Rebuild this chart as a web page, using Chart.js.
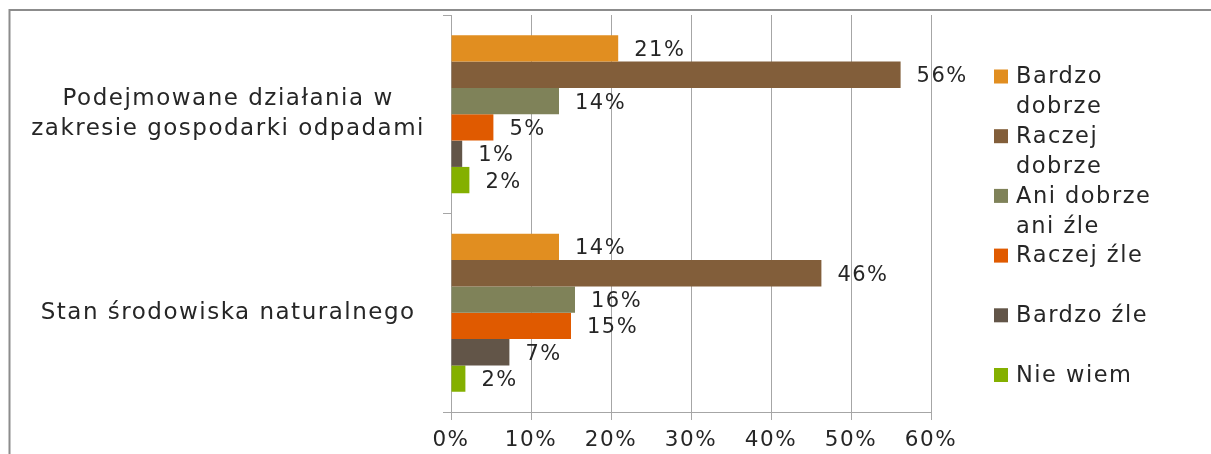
<!DOCTYPE html>
<html>
<head>
<meta charset="utf-8">
<script src="https://cdn.jsdelivr.net/npm/chart.js@4/dist/chart.umd.min.js"></script>
<style>
html,body{margin:0;padding:0;background:#fff;overflow:hidden}
#wrap{position:relative;width:1211px;height:454px}
canvas{display:block}
</style>
</head>
<body>
<div id="wrap"><canvas id="c" width="1211" height="454"></canvas></div>
<script>
// ---- data ----
const categories = [["Podejmowane działania w", "zakresie gospodarki odpadami"], "Stan środowiska naturalnego"];
const seriesNames = ["Bardzo dobrze", "Raczej dobrze", "Ani dobrze ani źle", "Raczej źle", "Bardzo źle", "Nie wiem"];
const bardzoDobrze    = [20.9, 13.5];
const raczejDobrze    = [56.2, 46.3];
const aniDobrzeAniZle = [13.5, 15.5];
const raczejZle       = [5.3, 15.0];
const bardzoZle       = [1.4, 7.3];
const nieWiem         = [2.3, 1.8];
const xTickValues     = [0, 10, 20, 30, 40, 50, 60];
const seriesColors    = ["#E18E20", "#825E3A", "#7F8259", "#E05A00", "#625548", "#84B000"];

const seriesValues = [bardzoDobrze, raczejDobrze, aniDobrzeAniZle, raczejZle, bardzoZle, nieWiem];

// ---- style ----
const FONT = '"DejaVu Sans", sans-serif';
const TEXT = '#262626';
const GRID = '#A6A6A6';
const LS = '1.5px';
Chart.defaults.font.family = FONT;

const spacingPlugin = {
  id: 'spacing',
  beforeUpdate(chart) { chart.ctx.letterSpacing = LS; },
  beforeLayout(chart) { chart.ctx.letterSpacing = LS; },
  beforeDraw(chart) { chart.ctx.letterSpacing = LS; }
};

const framePlugin = {
  id: 'frame',
  beforeDraw(chart) {
    const ctx = chart.ctx;
    ctx.save();
    ctx.fillStyle = '#fff';
    ctx.fillRect(0, 0, chart.width, chart.height);
    ctx.strokeStyle = '#8C8C8C';
    ctx.lineWidth = 2;
    ctx.beginPath();
    ctx.moveTo(9.5, chart.height);
    ctx.lineTo(9.5, 10);
    ctx.lineTo(chart.width, 10);
    ctx.stroke();
    ctx.restore();
  }
};

const valueLabelPlugin = {
  id: 'valueLabels',
  afterDatasetsDraw(chart) {
    const ctx = chart.ctx;
    ctx.save();
    ctx.letterSpacing = LS;
    ctx.font = '21px ' + FONT;
    ctx.fillStyle = TEXT;
    ctx.textAlign = 'left';
    ctx.textBaseline = 'middle';
    chart.data.datasets.forEach((ds, i) => {
      chart.getDatasetMeta(i).data.forEach((bar, j) => {
        ctx.fillText(Math.round(ds.data[j]) + '%', bar.x + 16, bar.y + 2);
      });
    });
    ctx.restore();
  }
};

const legendPlugin = {
  id: 'customLegend',
  afterDraw(chart) {
    const ctx = chart.ctx;
    const boxX = 994, textX = 1016, y0 = 76.5, step = 59.7, lineH = 30, box = 14, maxW = 152;
    ctx.save();
    ctx.letterSpacing = LS;
    ctx.font = '22.5px ' + FONT;
    ctx.fillStyle = TEXT;
    ctx.textAlign = 'left';
    ctx.textBaseline = 'middle';
    chart.data.datasets.forEach((ds, i) => {
      const y = y0 + i * step;
      ctx.fillStyle = ds.backgroundColor;
      ctx.fillRect(boxX, y - box / 2, box, box);
      const words = ds.label.split(' ');
      const lines = [];
      let cur = '';
      words.forEach(w => {
        const t = cur ? cur + ' ' + w : w;
        if (cur && ctx.measureText(t).width > maxW) { lines.push(cur); cur = w; }
        else cur = t;
      });
      if (cur) lines.push(cur);
      ctx.fillStyle = TEXT;
      lines.forEach((l, k) => ctx.fillText(l, textX, y + 1 + k * lineH));
    });
    ctx.restore();
  }
};

const ctx = document.getElementById('c').getContext('2d');
new Chart(ctx, {
  type: 'bar',
  data: {
    labels: categories,
    datasets: seriesNames.map((name, i) => ({
      label: name,
      data: seriesValues[i],
      backgroundColor: seriesColors[i],
      borderWidth: 0,
      categoryPercentage: 0.796,
      barPercentage: 1.0
    }))
  },
  options: {
    indexAxis: 'y',
    responsive: false,
    animation: false,
    devicePixelRatio: 1,
    layout: { padding: { left: 10, right: 280, top: 15, bottom: 0 } },
    plugins: { legend: { display: false }, tooltip: { enabled: false } },
    scales: {
      x: {
        min: xTickValues[0],
        max: xTickValues[xTickValues.length - 1],
        ticks: {
          stepSize: xTickValues[1] - xTickValues[0],
          callback: v => v + '%',
          font: { size: 21.5 },
          color: TEXT,
          padding: 8,
          maxRotation: 0
        },
        grid: { color: GRID, lineWidth: 1, tickLength: 8 },
        border: { color: GRID, width: 1 },
        afterFit(scale) { scale.paddingLeft = 0; scale.paddingRight = 0; scale.height = 42; }
      },
      y: {
        ticks: {
          font: { size: 23, lineHeight: 1.28 },
          color: TEXT,
          crossAlign: 'center',
          padding: 18
        },
        grid: { drawOnChartArea: false, tickLength: 8, color: GRID, offset: true },
        border: { color: GRID, width: 1 },
        afterFit(scale) { scale.width = 441; scale.paddingTop = 0; scale.paddingBottom = 0; }
      }
    }
  },
  plugins: [spacingPlugin, framePlugin, valueLabelPlugin, legendPlugin]
});
</script>
</body>
</html>
